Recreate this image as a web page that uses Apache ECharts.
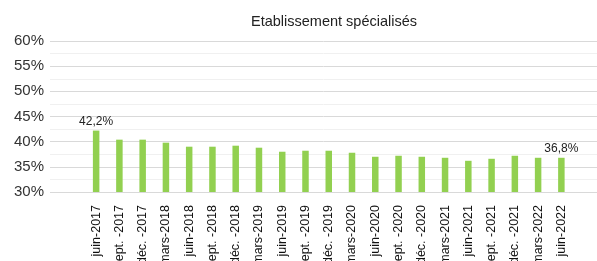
<!DOCTYPE html>
<html><head><meta charset="utf-8">
<script src="https://cdn.jsdelivr.net/npm/echarts@6/dist/echarts.min.js"></script>
<style>html,body{margin:0;padding:0;background:#fff}#c{width:597px;height:261px}</style>
</head><body><div id="c"></div>
<script>
const categories = ['juin-2017','sept. -2017','déc. -2017','mars-2018','juin-2018','sept. -2018','déc. -2018','mars-2019','juin-2019','sept. -2019','déc. -2019','mars-2020','juin-2020','sept. -2020','déc. -2020','mars-2021','juin-2021','sept. -2021','déc. -2021','mars-2022','juin-2022'];
const values = [42.2,40.4,40.4,39.8,39.0,39.0,39.2,38.8,38.0,38.2,38.2,37.8,37.0,37.2,37.0,36.8,36.2,36.6,37.2,36.8,36.8];
const labelled = [0, 20];
const yTicks = [30,35,40,45,50,55,60];
const title = 'Etablissement spécialisés';

const chart = echarts.init(document.getElementById('c'), null, {renderer:'canvas'});
const fmt = v => v.toFixed(1).replace('.', ',') + '%';
chart.setOption({
  animation:false,
  title:{text:title,left:329,top:9,textAlign:'center',textStyle:{fontFamily:'Liberation Sans',fontSize:14.5,fontWeight:'normal',color:'#222'}},
  grid:[
    {left:50,right:0,top:41,bottom:69,containLabel:false,outerBoundsMode:'none'},
    {left:84.5,right:24,top:41,bottom:69,containLabel:false,outerBoundsMode:'none'}
  ],
  xAxis:[
    {gridIndex:0,type:'value',show:false,min:0,max:1},
    {gridIndex:1,type:'category',data:categories,boundaryGap:true,
     axisLine:{show:false},axisTick:{show:false},
     axisLabel:{rotate:90,margin:13,interval:0,fontFamily:'Liberation Sans',fontSize:12.5,color:'#111'}}
  ],
  yAxis:[
    {gridIndex:0,type:'value',min:yTicks[0],max:yTicks[yTicks.length-1],interval:5,
     axisLine:{show:false},axisTick:{show:false},
     axisLabel:{formatter:v=>v+'%',margin:6,fontFamily:'Liberation Sans',fontSize:15,color:'#333'},
     splitLine:{lineStyle:{color:'#d9d9d9',width:1}},
     minorTick:{show:false,splitNumber:2},
     minorSplitLine:{show:true,lineStyle:{color:'#f0f0f0',width:1}}},
    {gridIndex:1,type:'value',min:yTicks[0],max:yTicks[yTicks.length-1],interval:5,show:false,splitLine:{show:false}}
  ],
  series:[{
    type:'bar',xAxisIndex:1,yAxisIndex:1,barWidth:6.5,
    itemStyle:{color:'#92d050'},
    data:values.map((v,i)=>({value:v,label:{show:labelled.includes(i)}})),
    label:{position:'top',distance:3,formatter:p=>fmt(p.value),fontFamily:'Liberation Sans',fontSize:12,color:'#222'}
  }]
});
</script></body></html>
